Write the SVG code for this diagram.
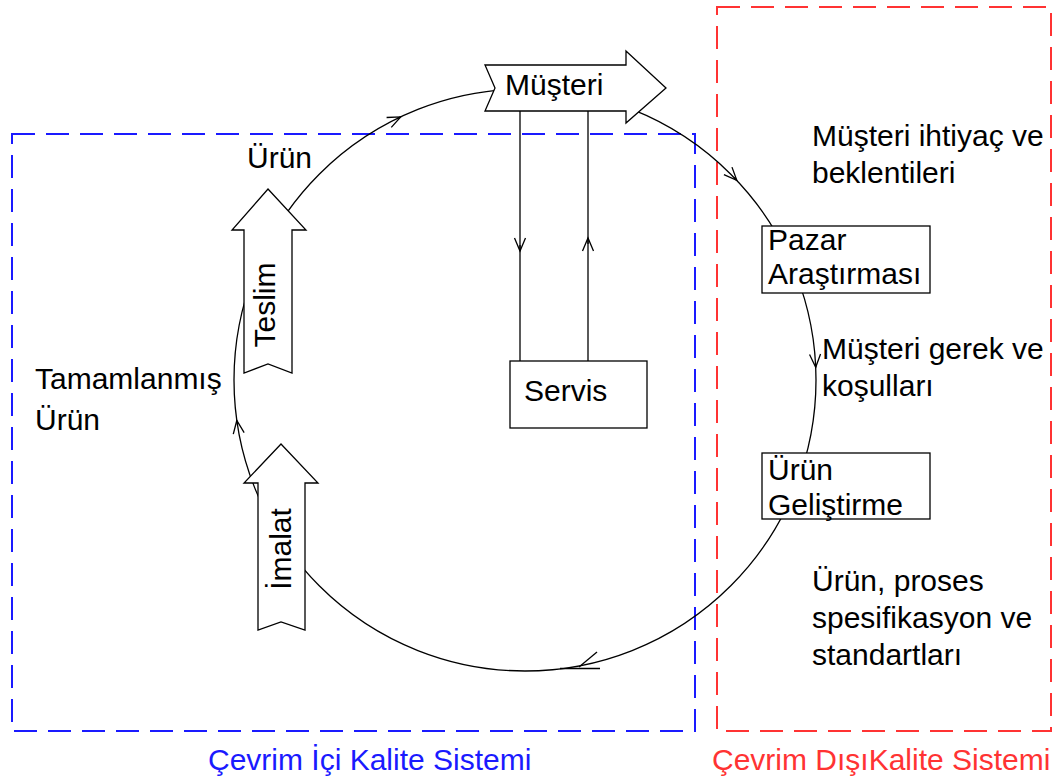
<svg xmlns="http://www.w3.org/2000/svg" width="1053" height="776" viewBox="0 0 1053 776">
  <style>
    .t { font-family: "Liberation Sans", Arial, sans-serif; font-size: 30px; fill: #000; }
    .ln { fill: none; stroke: #000; stroke-width: 1.3; }
    .shape { fill: #fff; stroke: #000; stroke-width: 1.3; }
    .zone { fill: none; stroke-width: 2; stroke-dasharray: 23 11; }
  </style>
  <defs>
    <marker id="v" markerUnits="userSpaceOnUse" markerWidth="30" markerHeight="30" refX="0" refY="0" orient="auto" overflow="visible">
      <path d="M -13 -5.5 L 0 0 L -13 5.5" fill="none" stroke="#000" stroke-width="1.3"/>
    </marker>
  </defs>

  <rect width="1053" height="776" fill="#fff"/>

  <!-- system boundaries -->
  <g id="inline-zone">
    <rect class="zone" x="12" y="134" width="683" height="597" stroke="#1a1aff"/>
    <text class="t" x="208" y="770" fill="#1a1aff" style="fill:#1a1aff">Çevrim İçi Kalite Sistemi</text>
  </g>
  <g id="offline-zone">
    <rect class="zone" x="717" y="7" width="334" height="724" stroke="#ff3333"/>
    <text class="t" x="712" y="770" style="fill:#ff3333">Çevrim DışıKalite Sistemi</text>
  </g>

  <!-- cycle and service links -->
  <g id="connectors">
    <circle class="ln" cx="525" cy="380" r="291"/>
    <path class="ln" d="M 397.1 118.6 L 400.7 116.9" marker-end="url(#v)"/>
    <path class="ln" d="M 734.1 177.5 L 736.8 180.4" marker-end="url(#v)"/>
    <path class="ln" d="M 815.5 363.3 L 815.7 367.3" marker-end="url(#v)"/>
    <path class="ln" d="M 597 652 L 579 667"/>
    <path class="ln" d="M 560 668.5 L 600 668.5"/>
    <path class="ln" d="M 237.4 424.5 L 236.8 420.5" marker-end="url(#v)"/>
    <path class="ln" d="M 520 111 L 520 361"/>
    <path class="ln" d="M 588 111 L 588 361"/>
    <path class="ln" d="M 520 245 L 520 251" marker-end="url(#v)"/>
    <path class="ln" d="M 588 244 L 588 238" marker-end="url(#v)"/>
  </g>

  <g id="musteri">
    <path class="shape" d="M 485 65 L 626 65 L 626 51 L 666 88 L 626 123 L 626 111 L 485 111 L 495 88 Z"/>
    <text class="t" x="505" y="95">Müşteri</text>
  </g>

  <g id="teslim">
    <path class="shape" d="M 268 189 L 306 230 L 292 230 L 292 373 L 268 364 L 244 373 L 244 230 L 232 230 Z"/>
    <text class="t" transform="translate(275,305) rotate(-90)" text-anchor="middle">Teslim</text>
  </g>

  <g id="imalat">
    <path class="shape" d="M 281 444 L 318 483 L 305 483 L 305 630 L 281 622 L 258 630 L 258 483 L 244 483 Z"/>
    <text class="t" transform="translate(291,549) rotate(-90)" text-anchor="middle">İmalat</text>
  </g>

  <g id="servis">
    <rect class="shape" x="510" y="361" width="137" height="67"/>
    <text class="t" x="524" y="401">Servis</text>
  </g>

  <g id="pazar-arastirmasi">
    <rect class="shape" x="762" y="226" width="168" height="67"/>
    <text class="t" x="768" y="250">Pazar</text>
    <text class="t" x="768" y="284">Araştırması</text>
  </g>

  <g id="urun-gelistirme">
    <rect class="shape" x="762" y="453" width="168" height="66"/>
    <text class="t" x="768" y="480">Ürün</text>
    <text class="t" x="768" y="515">Geliştirme</text>
  </g>

  <!-- flow labels -->
  <g id="labels">
    <text class="t" x="247" y="168">Ürün</text>
    <text class="t" x="35" y="389">Tamamlanmış</text>
    <text class="t" x="35" y="430">Ürün</text>
    <text class="t" x="812" y="146">Müşteri ihtiyaç ve</text>
    <text class="t" x="812" y="183">beklentileri</text>
    <text class="t" x="822" y="359">Müşteri gerek ve</text>
    <text class="t" x="822" y="396">koşulları</text>
    <text class="t" x="812" y="591">Ürün, proses</text>
    <text class="t" x="812" y="628">spesifikasyon ve</text>
    <text class="t" x="812" y="665">standartları</text>
  </g>
</svg>
